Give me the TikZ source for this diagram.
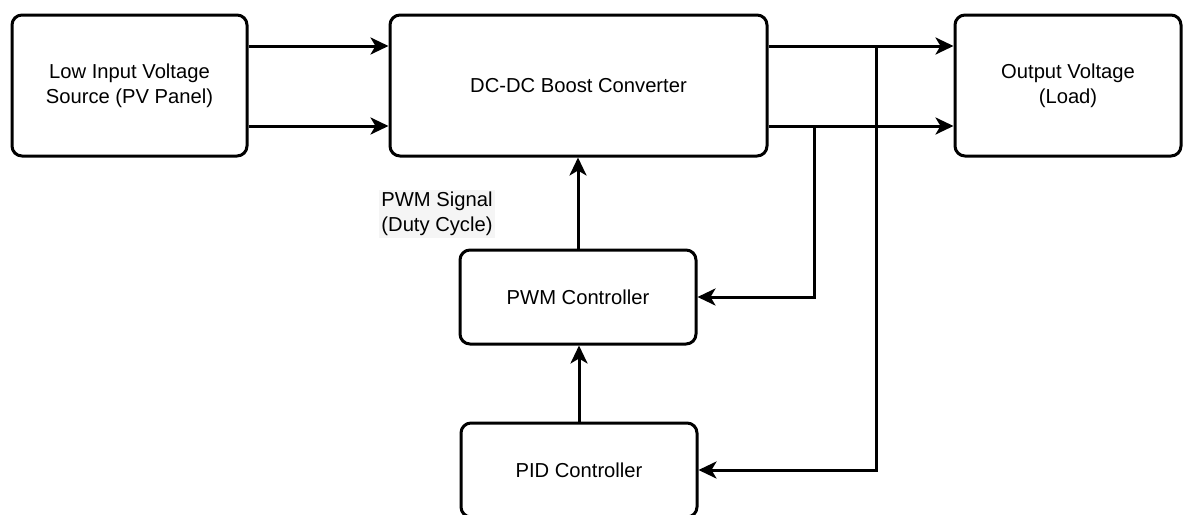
\documentclass[tikz,border=0pt]{standalone}
\usepackage{fontspec}
\setmainfont{Liberation Sans}
\usetikzlibrary{arrows.meta,positioning,calc}

\begin{document}
\begin{tikzpicture}[
    x=0.5pt, y=-0.5pt,
    block/.style={draw, line width=1.5pt, rounded corners=5pt, align=center,
        font=\fontsize{10.1}{12.5}\selectfont},
    arrow/.style={-{Stealth[length=9pt, width=8.5pt, inset=2.5pt]}, line width=1.5pt},
    wire/.style={line width=1.5pt},
    note/.style={align=left, fill=black!4, inner sep=1pt,
        font=\fontsize{10.1}{12.5}\selectfont}
]
\useasboundingbox (0,0) rectangle (1192,514);

% Blocks
\node[block, minimum width=117.5pt, minimum height=70.5pt] (src) at (129.5,85.5)
    {Low Input Voltage\\Source (PV Panel)};
\node[block, minimum width=188.5pt, minimum height=70.5pt] (boost) at (578.5,85.5)
    {DC-DC Boost Converter};
\node[block, minimum width=113pt, minimum height=70.5pt] (load) at (1068,85.5)
    {Output Voltage\\(Load)};
\node[block, minimum width=118pt, minimum height=47pt] (pwm) at (578,297)
    {PWM Controller};
\node[block, minimum width=118pt, minimum height=47pt] (pid) at (579,470)
    {PID Controller};

% Rails and taps
\coordinate (hi) at (0,46);
\coordinate (lo) at (0,126);
\coordinate (tapA) at (876,46);
\coordinate (tapB) at (814,126);

% Power path
\draw[arrow] (src.east |- hi) -- (boost.west |- hi);
\draw[arrow] (src.east |- lo) -- (boost.west |- lo);
\draw[arrow] (boost.east |- hi) -- (load.west |- hi);
\draw[arrow] (boost.east |- lo) -- (load.west |- lo);

% Feedback
\draw[arrow] (tapA) |- (pid.east);
\draw[arrow] (tapB) |- (pwm.east);
\draw[arrow] (pid.north) -- (pid.north |- pwm.south);
\draw[arrow] (pwm.north) -- (pwm.north |- boost.south);

\node[note] (duty) at (437,214) {PWM Signal\\(Duty Cycle)};

\end{tikzpicture}
\end{document}
